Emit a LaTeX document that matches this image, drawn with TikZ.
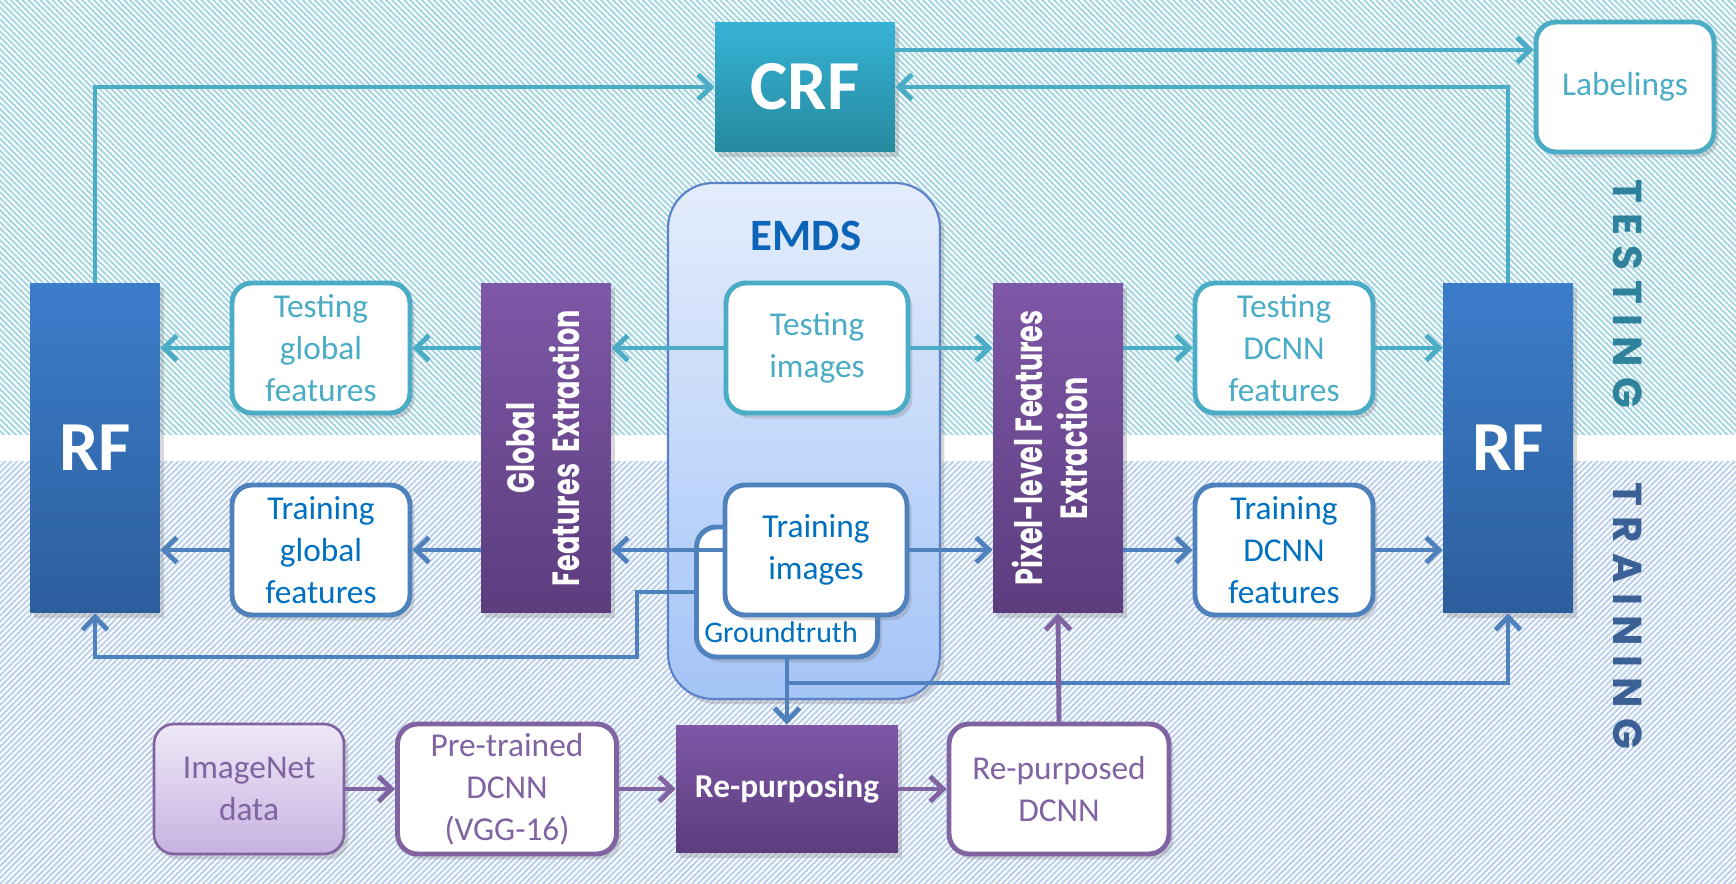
\documentclass[tikz,border=0pt]{standalone}
\usepackage{fontspec}
\setmainfont{Carlito}
\newfontfamily\geofont{Poppins}
\usetikzlibrary{arrows.meta,shadows,patterns.meta}

\definecolor{tealc}{HTML}{4BACC6}
\definecolor{bluec}{HTML}{4F81BD}
\definecolor{bluetxt}{HTML}{0070C0}
\definecolor{purpc}{HTML}{8064A2}
\definecolor{hatchtst}{HTML}{A8D6E2}
\definecolor{hatchtrn}{HTML}{BDD1EC}
\definecolor{rfA}{HTML}{3C7DCB}
\definecolor{rfB}{HTML}{2C5E9C}
\definecolor{purA}{HTML}{7E57A6}
\definecolor{purB}{HTML}{5B3D7E}
\tikzstyle{shad} = [drop shadow={opacity=0.3, shadow xshift=2.5pt, shadow yshift=-3pt}]
\tikzstyle{rbox} = [shad, rounded corners=0.4cm, fill=white, line width=2.8pt, align=center, minimum width=3.56cm, minimum height=2.6cm, font=\fontsize{19}{24}\selectfont]
\tikzstyle{vtext} = [white, rotate=90, align=center, font=\geofont\bfseries\fontsize{15.4}{18.5}\selectfont]

\begin{document}
\begin{tikzpicture}[x=0.02cm, y=-0.02cm,
	tstbox/.style={rbox, draw=tealc, text=tealc},
	trnbox/.style={rbox, draw=bluec, text=bluetxt},
	purbox/.style={rbox, draw=purpc, text=purpc},
	rfbox/.style={shad, top color=rfA, bottom color=rfB, minimum width=2.6cm, minimum height=6.6cm, text=white, font=\bfseries\fontsize{40}{44}\selectfont},
	extbox/.style={shad, top color=purA, bottom color=purB, minimum width=2.6cm, minimum height=6.6cm},
	tarrow/.style={tealc, line width=2.8pt, -{Straight Barb[length=0.26cm, width=0.5cm]}},
	barrow/.style={bluec, line width=2.8pt, -{Straight Barb[length=0.26cm, width=0.5cm]}},
	parrow/.style={purpc, line width=2.8pt, -{Straight Barb[length=0.26cm, width=0.5cm]}}]
	
	% background
	\useasboundingbox (0,0) rectangle (1736,884);
	\fill[white] (0,0) rectangle (1736,884);
	\fill[pattern={Lines[angle=-45, distance=2.4pt, line width=1.2pt]}, pattern color=hatchtst] (0,0) rectangle (1736,435);
	\fill[pattern={Lines[angle=45, distance=2.4pt, line width=1.2pt]}, pattern color=hatchtrn] (0,462) rectangle (1736,884);
	\node (tstlabel) at (1628,294) [rotate=-90, text={rgb,255:red,46;green,130;blue,155}, font=\geofont\bfseries\fontsize{23}{28}\selectfont\addfontfeatures{LetterSpace=25}] {TESTING};
	\node (trnlabel) at (1628,616) [rotate=-90, text={rgb,255:red,58;green,96;blue,150}, font=\geofont\bfseries\fontsize{23}{28}\selectfont\addfontfeatures{LetterSpace=25}] {TRAINING};
	
	% EMDS
	\node (emds) at (804,441) [shad, draw={rgb,255:red,91;green,130;blue,198}, line width=1.2pt, rounded corners=0.9cm, top color={rgb,255:red,228;green,237;blue,252}, bottom color={rgb,255:red,164;green,196;blue,247}, minimum width=5.44cm, minimum height=10.32cm] {};
	\node (emdslabel) at (806,236) [text={rgb,255:red,12;green,100;blue,184}, font=\bfseries\fontsize{25.5}{30}\selectfont] {EMDS};
	\node (gt) at (787,592) [trnbox, minimum width=3.62cm] {};
	\node (gtlabel) at (781,632) [text=bluetxt, font=\fontsize{17}{20}\selectfont] {Groundtruth};
	\node (timg) at (817,348) [tstbox, minimum width=3.64cm] {Testing\\images};
	\node (trimg) at (816,550) [trnbox, minimum width=3.64cm] {Training\\images};
	
	% top row
	\node (crf) at (805,87) [shad, top color={rgb,255:red,54;green,178;blue,214}, bottom color={rgb,255:red,37;green,138;blue,158}, minimum width=3.6cm, minimum height=2.58cm, text=white, font=\bfseries\fontsize{40}{44}\selectfont] {CRF};
	\node (lab) at (1625,87) [tstbox] {Labelings};
	
	% RF and extraction
	\node (rfl) at (95,448) [rfbox] {RF};
	\node (rfr) at (1508,448) [rfbox] {RF};
	\node (gfe) at (546,448) [extbox] {};
	\node (gfetxt) at (548,448) [vtext] {\scalebox{1}[1.4]{\begin{tabular}{@{}c@{}}Global\\Features\ \ Extraction\end{tabular}}};
	\node (pfe) at (1058,448) [extbox] {};
	\node (pfetxt) at (1056,448) [vtext] {\scalebox{1}[1.4]{\begin{tabular}{@{}c@{}}Pixel-level Features\\Extraction\end{tabular}}};
	
	% feature boxes
	\node (tgf) at (321,348) [tstbox] {Testing\\global\\features};
	\node (trgf) at (321,550) [trnbox] {Training\\global\\features};
	\node (tdcnn) at (1284,348) [tstbox] {Testing\\DCNN\\features};
	\node (trdcnn) at (1284,550) [trnbox] {Training\\DCNN\\features};
	
	% bottom row
	\node (imnet) at (249,789) [rbox, draw=purpc, line width=1.5pt, top color={rgb,255:red,239;green,233;blue,247}, bottom color={rgb,255:red,199;green,178;blue,226}, text=purpc, minimum width=3.8cm] {ImageNet\\data};
	\node (pre) at (507,789) [purbox, minimum width=4.38cm] {Pre-trained\\DCNN\\(VGG-16)};
	\node (rep) at (787,789) [shad, top color=purA, bottom color=purB, minimum width=4.44cm, minimum height=2.56cm, text=white, font=\bfseries\fontsize{19}{24}\selectfont] {Re-purposing};
	\node (repd) at (1059,789) [purbox, minimum width=4.4cm] {Re-purposed\\DCNN};
	
	\coordinate (crfout) at (895,50);
	\coordinate (gtbend) at (637,657);
	\coordinate (gtsplit) at (787,683);
	
	% testing arrows
	\draw[tarrow] (timg.west) -- (gfe.east |- timg.west);
	\draw[tarrow] (gfe.west |- tgf.east) -- (tgf.east);
	\draw[tarrow] (tgf.west) -- (rfl.east |- tgf.west);
	\draw[tarrow] (timg.east) -- (pfe.west |- timg.east);
	\draw[tarrow] (pfe.east |- tdcnn.west) -- (tdcnn.west);
	\draw[tarrow] (tdcnn.east) -- (rfr.west |- tdcnn.east);
	\draw[tarrow] (rfl.north) |- (crf.west);
	\draw[tarrow] (rfr.north) |- (crf.east);
	\draw[tarrow] (crfout) -- (crfout -| lab.west);
	
	% training arrows
	\draw[barrow] (trimg.west) -- (gfe.east |- trimg.west);
	\draw[barrow] (gfe.west |- trgf.east) -- (trgf.east);
	\draw[barrow] (trgf.west) -- (rfl.east |- trgf.west);
	\draw[barrow] (trimg.east) -- (pfe.west |- trimg.east);
	\draw[barrow] (pfe.east |- trdcnn.west) -- (trdcnn.west);
	\draw[barrow] (trdcnn.east) -- (rfr.west |- trdcnn.east);
	\draw[barrow] (gt.west) -| (gtbend) -| (rfl.south);
	\draw[barrow] (gt.south) -- (rep.north);
	\draw[barrow] (gtsplit) -| (rfr.south);
	
	% pre-training arrows
	\draw[parrow] (imnet.east) -- (pre.west);
	\draw[parrow] (pre.east) -- (rep.west);
	\draw[parrow] (rep.east) -- (repd.west);
	\draw[parrow] (repd.north) -- (pfe.south);
\end{tikzpicture}
\end{document}
